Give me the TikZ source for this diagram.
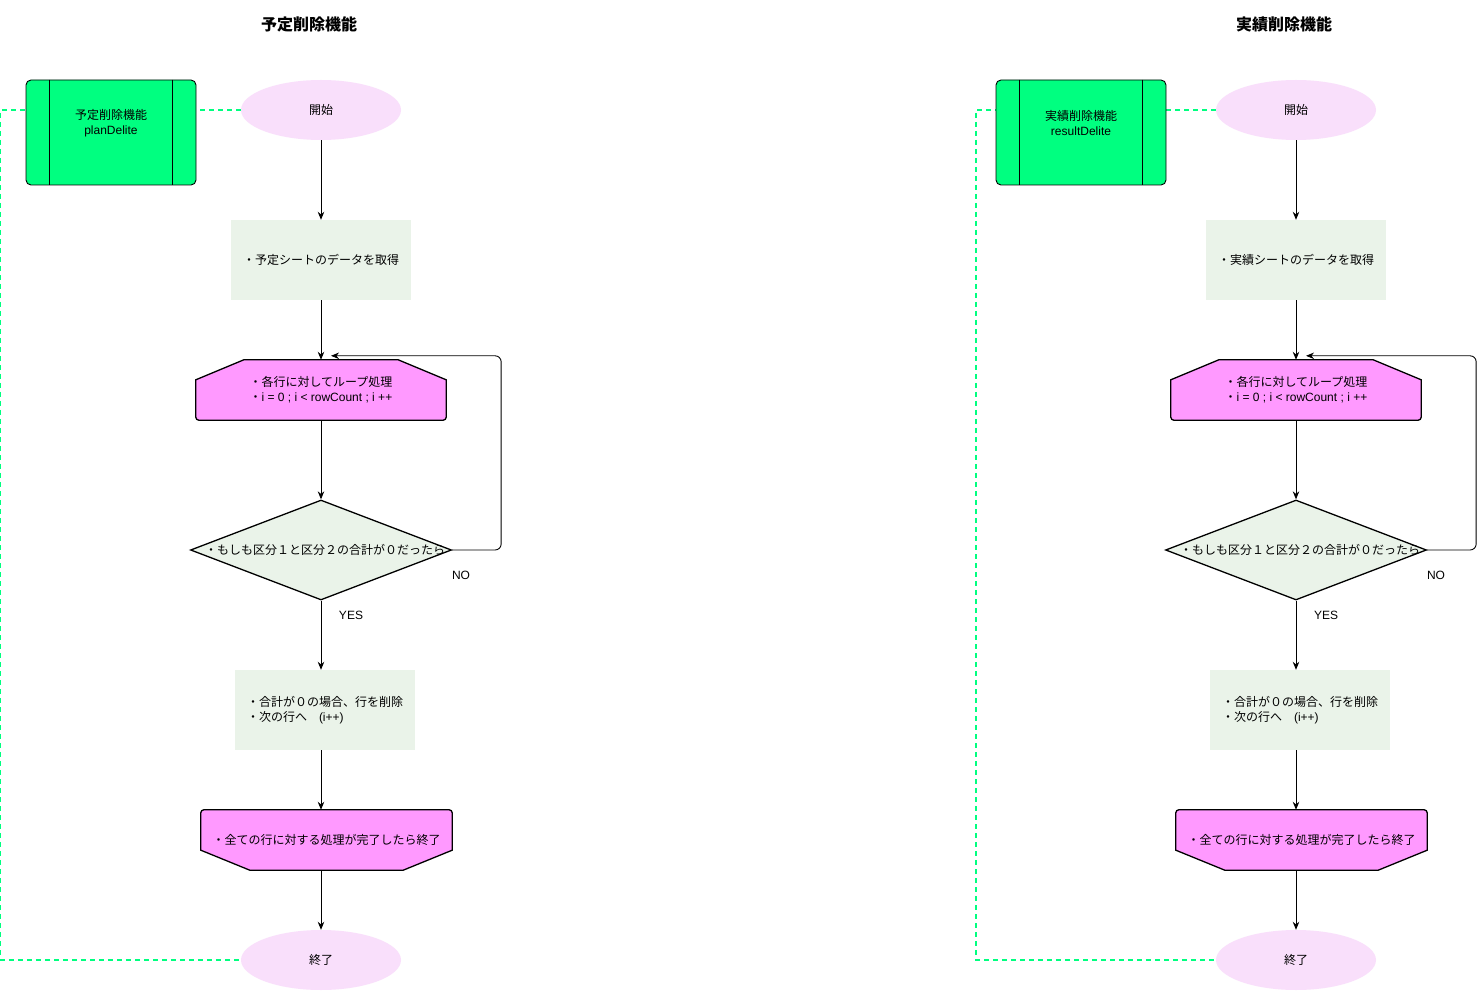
\documentclass[tikz,border=0pt]{standalone}
\usepackage{fontspec}
\setmainfont{Noto Sans CJK JP}
\newfontfamily\lat{Liberation Sans}
\usetikzlibrary{arrows.meta,shapes.geometric,backgrounds}

\definecolor{procgreen}{HTML}{00FF80}
\definecolor{termpink}{HTML}{F9DFFB}
\definecolor{stepfill}{HTML}{EAF3E9}
\definecolor{loopfill}{HTML}{FF99FF}

\tikzset{
  every node/.style={font=\fontsize{12}{15}\selectfont, inner sep=0pt},
  charttitle/.style={font=\fontsize{16}{19}\selectfont\bfseries},
  terminal/.style={ellipse, fill=termpink, minimum width=160pt, minimum height=60pt},
  stepbox/.style={rectangle, fill=stepfill, minimum width=180pt, minimum height=80pt, align=left},
  predef/.style={rectangle, rounded corners=5pt, draw, line width=0.9pt, fill=procgreen,
                 minimum width=170pt, minimum height=105pt},
  hexarea/.style={rectangle, minimum width=#1, minimum height=60pt, align=left},
  hexline/.style={draw, fill=loopfill, line width=1.3pt},
  decision/.style={diamond, draw, fill=stepfill, line width=1.3pt,
                   minimum width=261pt, minimum height=100pt},
  flow/.style={-{Stealth[length=8pt,width=6.5pt]}, line width=0.9pt},
  dashline/.style={draw=procgreen, line width=1.4pt, dash pattern=on 5pt off 4pt},
  lbl/.style={font=\fontsize{12}{15}\selectfont\lat},
}

% #1 name prefix, #2 horizontal offset, #3 title, #4 function name,
% #5 function id, #6 sheet step text, #7 function box centre x
\newcommand\deletionchart[7]{%
\begin{scope}[xshift=#2pt]
  \node[charttitle] (#1title) at (309,24) {#3};

  % function box with side bars
  \node[predef] (#1func) at (#7,132.5) {};
  \draw[line width=0.9pt] ([xshift=24pt]#1func.north west) -- ([xshift=24pt]#1func.south west);
  \draw[line width=0.9pt] ([xshift=-24pt]#1func.north east) -- ([xshift=-24pt]#1func.south east);
  \node[align=center] (#1funcT) at ([yshift=9pt]#1func.center) {#4\\{\lat #5}};

  % main flow
  \node[terminal] (#1start) at (321,110) {開始};
  \node[stepbox] (#1get) at (321,260) {#6};
  \node[hexarea=250pt] (#1loop) at (321,390)
     {・各行に対してループ処理\\・{\lat i = 0 ; i < rowCount ; i ++}};
  \node[decision] (#1dec) at (321,550) {};
  \node (#1decT) at ([xshift=4pt]#1dec.center) {・もしも区分１と区分２の合計が０だったら};
  \node[stepbox] (#1del) at (325,710) {・合計が０の場合、行を削除\\・次の行へ　{\lat (i++)}};
  \node[hexarea=251pt] (#1done) at (326.5,840) {・全ての行に対する処理が完了したら終了};
  \node[terminal] (#1end) at (321,960) {終了};

  \node[lbl] (#1no) at (461,575) {NO};
  \node[lbl] (#1yes) at (351,615) {YES};

  \begin{scope}[on background layer]
    % loop start: cut top corners
    \draw[hexline] ([yshift=-20pt]#1loop.north west) -- ([xshift=48pt]#1loop.north west)
      -- ([xshift=-48pt]#1loop.north east) -- ([yshift=-20pt]#1loop.north east)
      [rounded corners=3pt] -- (#1loop.south east) -- (#1loop.south west)
      [sharp corners] -- cycle;
    % loop end: cut bottom corners
    \draw[hexline] ([yshift=20pt]#1done.south west) [rounded corners=3pt]
      -- (#1done.north west) -- (#1done.north east) [sharp corners]
      -- ([yshift=20pt]#1done.south east) -- ([xshift=-49pt]#1done.south east)
      -- ([xshift=49pt]#1done.south west) -- cycle;
    % link between the function box and its start/end
    \draw[dashline] (#1start.west) -- ++(-240,0) |- (#1end.west);
  \end{scope}

  \coordinate (#1loopin) at ([xshift=10pt,yshift=4pt]#1loop.north);
  \draw[flow] (#1start) -- (#1get);
  \draw[flow] (#1get) -- (#1loop);
  \draw[flow] (#1loop) -- (#1dec);
  \draw[flow, rounded corners=6pt] (#1dec.east) -- ++(49,0) |- (#1loopin);
  \draw[flow] (#1dec.south) -- (#1dec.south |- #1del.north);
  \draw[flow] (#1del.south -| #1dec.south) -- (#1done.north -| #1dec.south);
  \draw[flow] (#1done.south -| #1end) -- (#1end);
\end{scope}}

\begin{document}
\begin{tikzpicture}[x=1pt, y=-1pt]
  % white page, drawn first on the lowest layer
  \begin{scope}[on background layer]
    \fill[white] (0,0) rectangle (1484,992);
  \end{scope}
  \useasboundingbox (0,0) rectangle (1484,992);

  \deletionchart{p}{0}{予定削除機能}{予定削除機能}{planDelite}{・予定シートのデータを取得}{111}
  \deletionchart{r}{975}{実績削除機能}{実績削除機能}{resultDelite}{・実績シートのデータを取得}{106}
\end{tikzpicture}
\end{document}
